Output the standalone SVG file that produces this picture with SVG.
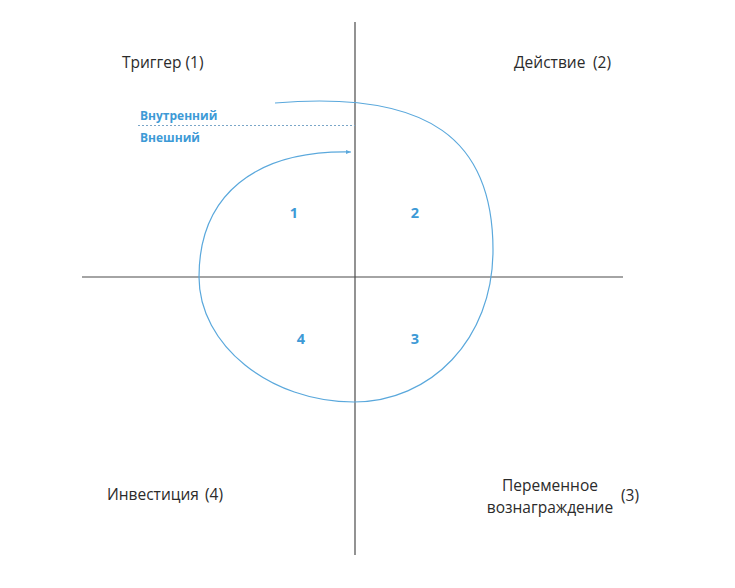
<svg xmlns="http://www.w3.org/2000/svg" width="735" height="588" viewBox="0 0 735 588">
<style>
.lbl{font-family:"Open Sans","Liberation Sans",sans-serif;font-size:15.5px;fill:#2b2b2b}
.blue{font-family:"Open Sans","Liberation Sans",sans-serif;font-weight:bold;fill:#3d9ad6}
.axis{stroke:#4a4a4a;stroke-width:1.2;fill:none}
</style>
<defs>
<marker id="ah" markerWidth="6" markerHeight="6" refX="5" refY="3" orient="auto" markerUnits="userSpaceOnUse">
<path d="M0,1 L5,3 L0,5 Z" fill="#5aa8dc"/>
</marker>
</defs>
<rect width="735" height="588" fill="#ffffff"/>
<g id="connectors">
<line class="axis" x1="355" y1="22" x2="355" y2="555"/>
<line class="axis" x1="82" y1="277" x2="623" y2="277"/>
<line x1="138" y1="125.5" x2="355" y2="125.5" stroke="#7aa6c8" stroke-width="1" stroke-dasharray="2,2"/>
<path d="M275,103 C430,90 493,140 493,250 C493,340 430,402 354,402 C270,402 199,345 199,277 C199,195 255,150 351,152" fill="none" stroke="#5aa8dc" stroke-width="1.2" marker-end="url(#ah)"/>
</g>
<g id="trigger"><text class="lbl" x="122" y="68">Триггер (1)</text></g>
<g id="action"><text class="lbl" x="514" y="68">Действие</text><text class="lbl" x="593" y="68">(2)</text></g>
<g id="investment"><text class="lbl" x="107" y="500">Инвестиция</text><text class="lbl" x="205" y="500">(4)</text></g>
<g id="reward"><text class="lbl" x="550" y="491" text-anchor="middle">Переменное</text><text class="lbl" x="550" y="513" text-anchor="middle">вознаграждение</text><text class="lbl" x="621" y="501">(3)</text></g>
<g id="internal"><text class="blue" x="140" y="120" font-size="12">Внутренний</text></g>
<g id="external"><text class="blue" x="140" y="142" font-size="12">Внешний</text></g>
<g id="q1"><text class="blue" x="294" y="218" font-size="14.5" text-anchor="middle">1</text></g>
<g id="q2"><text class="blue" x="415" y="218" font-size="14.5" text-anchor="middle">2</text></g>
<g id="q4"><text class="blue" x="301" y="344" font-size="14.5" text-anchor="middle">4</text></g>
<g id="q3"><text class="blue" x="415" y="344" font-size="14.5" text-anchor="middle">3</text></g>
</svg>
